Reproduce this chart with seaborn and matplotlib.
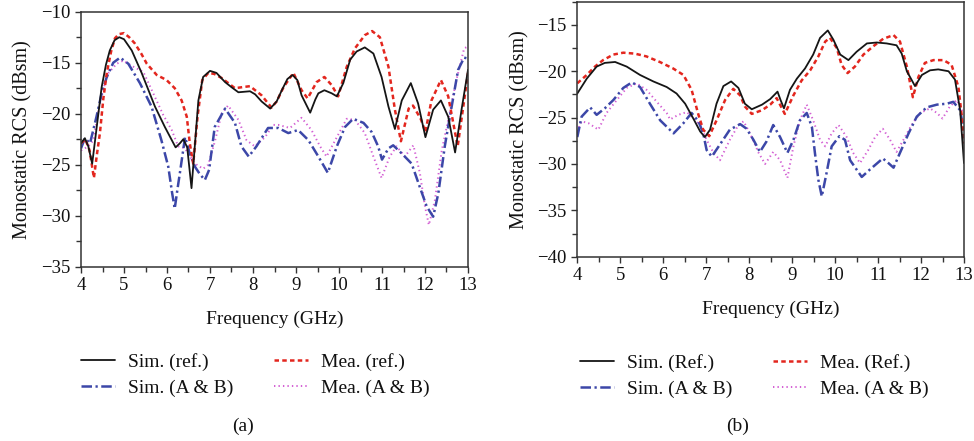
import numpy as np
import pandas as pd
import matplotlib
matplotlib.use("Agg")
import matplotlib.pyplot as plt
from matplotlib.ticker import MultipleLocator
from matplotlib.lines import Line2D
import seaborn as sns

# ---------------- Panel (a) data ----------------
a_sim_ref_f = [4.0, 4.09, 4.17, 4.26, 4.36, 4.48, 4.58, 4.67, 4.78, 4.89, 5.0, 5.18, 5.41, 5.72, 5.95, 6.2, 6.3, 6.38, 6.47, 6.57, 6.65, 6.73, 6.84, 7.0, 7.15, 7.35, 7.5, 7.66, 7.93, 8.05, 8.2, 8.4, 8.55, 8.67, 8.8, 8.92, 9.03, 9.13, 9.33, 9.45, 9.52, 9.66, 9.83, 9.95, 10.1, 10.26, 10.41, 10.6, 10.8, 10.99, 11.15, 11.3, 11.46, 11.67, 11.84, 12.01, 12.19, 12.37, 12.54, 12.7, 12.85, 13.0]
a_sim_ref_v = [-22.9, -22.4, -23.2, -24.9, -21.5, -17.4, -15.2, -13.8, -12.8, -12.5, -12.7, -13.8, -16.0, -19.3, -21.3, -23.3, -22.9, -22.5, -23.3, -27.3, -23.0, -18.7, -16.4, -15.8, -16.0, -16.9, -17.4, -17.9, -17.8, -18.1, -18.8, -19.5, -18.8, -17.7, -16.6, -16.2, -16.7, -18.2, -19.9, -18.6, -18.0, -17.7, -18.0, -18.3, -17.0, -14.7, -13.9, -13.5, -14.1, -16.4, -19.3, -21.5, -18.7, -17.0, -19.0, -22.3, -19.6, -18.7, -20.3, -23.8, -19.6, -15.7]

a_mea_ref_f = [4.0, 4.1, 4.2, 4.3, 4.37, 4.44, 4.52, 4.6, 4.7, 4.79, 4.88, 5.0, 5.12, 5.25, 5.4, 5.53, 5.76, 5.99, 6.18, 6.34, 6.46, 6.53, 6.61, 6.71, 6.82, 6.96, 7.1, 7.27, 7.58, 7.75, 7.93, 8.2, 8.43, 8.55, 8.71, 8.94, 9.13, 9.27, 9.48, 9.66, 9.83, 9.98, 10.18, 10.37, 10.6, 10.77, 10.95, 11.15, 11.3, 11.44, 11.62, 11.72, 11.9, 12.01, 12.15, 12.37, 12.54, 12.76, 12.89, 13.0]
a_mea_ref_v = [-22.9, -22.5, -23.6, -26.3, -24.0, -21.9, -18.5, -16.0, -13.9, -12.6, -12.2, -12.1, -12.5, -13.1, -14.1, -15.1, -16.2, -16.7, -17.5, -18.7, -20.3, -22.9, -24.9, -20.3, -16.7, -16.0, -16.1, -16.5, -17.5, -17.4, -17.3, -18.2, -19.4, -18.8, -17.4, -16.0, -17.7, -18.5, -16.9, -16.4, -17.2, -18.3, -15.4, -13.6, -12.3, -11.9, -12.5, -15.4, -19.6, -22.7, -19.5, -19.2, -20.5, -21.8, -18.7, -16.7, -18.3, -23.2, -19.3, -16.0]

a_sim_ab_f = [4.0, 4.09, 4.21, 4.36, 4.48, 4.6, 4.75, 4.91, 5.1, 5.37, 5.64, 5.87, 6.03, 6.12, 6.18, 6.24, 6.3, 6.42, 6.53, 6.65, 6.76, 6.88, 6.98, 7.11, 7.35, 7.58, 7.73, 7.9, 8.08, 8.35, 8.59, 8.82, 9.05, 9.29, 9.52, 9.74, 9.95, 10.14, 10.33, 10.57, 10.76, 10.91, 11.0, 11.15, 11.26, 11.46, 11.69, 11.88, 12.04, 12.19, 12.31, 12.46, 12.62, 12.77, 12.91, 13.0]
a_sim_ab_v = [-23.4, -22.4, -22.9, -20.3, -18.0, -16.4, -15.0, -14.5, -15.1, -17.0, -19.3, -22.6, -25.2, -27.8, -29.3, -27.5, -25.8, -22.3, -23.9, -25.2, -25.9, -26.5, -25.5, -21.3, -19.5, -20.9, -23.2, -24.2, -23.2, -21.4, -21.4, -21.9, -21.6, -22.6, -24.2, -25.8, -23.2, -21.3, -20.5, -20.9, -21.8, -23.2, -24.5, -23.4, -23.1, -23.9, -24.9, -27.2, -29.1, -30.1, -27.8, -23.2, -19.3, -15.7, -14.5, -14.6]

a_mea_ab_f = [4.0, 4.17, 4.29, 4.36, 4.44, 4.54, 4.64, 4.83, 4.98, 5.22, 5.45, 5.68, 5.91, 6.11, 6.26, 6.42, 6.53, 6.69, 6.84, 6.96, 7.12, 7.27, 7.42, 7.66, 7.85, 8.04, 8.28, 8.47, 8.59, 8.86, 9.13, 9.36, 9.56, 9.71, 9.95, 10.18, 10.37, 10.6, 10.8, 10.99, 11.18, 11.34, 11.53, 11.73, 11.88, 12.0, 12.09, 12.23, 12.39, 12.54, 12.73, 12.91, 13.0]
a_mea_ab_v = [-23.6, -23.2, -22.6, -20.8, -19.0, -17.3, -16.0, -15.1, -14.8, -15.4, -15.9, -18.0, -20.1, -21.6, -23.2, -23.4, -24.2, -25.0, -25.4, -25.0, -22.6, -20.0, -19.2, -20.6, -22.6, -23.2, -22.3, -21.1, -21.1, -21.4, -20.4, -21.6, -23.2, -24.2, -22.3, -20.5, -20.6, -21.9, -24.2, -26.3, -24.2, -23.2, -24.2, -23.1, -25.8, -29.1, -30.9, -28.5, -23.6, -20.6, -16.7, -13.6, -13.4]

# ---------------- Panel (b) data ----------------
b_sim_ref_f = [4.0, 4.22, 4.45, 4.64, 4.88, 5.15, 5.46, 5.77, 6.08, 6.31, 6.51, 6.7, 6.86, 6.97, 7.09, 7.24, 7.4, 7.58, 7.75, 7.9, 8.06, 8.3, 8.49, 8.66, 8.73, 8.81, 8.95, 9.11, 9.3, 9.49, 9.65, 9.83, 9.96, 10.12, 10.31, 10.5, 10.74, 10.97, 11.2, 11.43, 11.55, 11.67, 11.86, 12.02, 12.21, 12.4, 12.64, 12.79, 12.91, 13.0]
b_sim_ref_v = [-22.4, -20.8, -19.5, -19.1, -19.0, -19.5, -20.4, -21.1, -21.7, -22.4, -23.5, -25.1, -26.5, -27.1, -26.3, -23.5, -21.6, -21.1, -21.8, -23.5, -24.1, -23.6, -23.0, -22.2, -23.1, -24.0, -22.0, -20.8, -19.7, -18.2, -16.4, -15.6, -16.6, -18.2, -18.8, -17.9, -17.0, -16.9, -17.0, -17.2, -18.1, -20.0, -21.6, -20.4, -19.9, -19.8, -20.0, -20.9, -24.2, -29.9]

b_mea_ref_f = [4.0, 4.22, 4.41, 4.6, 4.84, 5.07, 5.34, 5.61, 5.92, 6.23, 6.47, 6.66, 6.82, 6.93, 7.07, 7.24, 7.44, 7.63, 7.79, 7.9, 8.06, 8.3, 8.49, 8.64, 8.83, 9.03, 9.22, 9.42, 9.61, 9.77, 9.88, 10.04, 10.15, 10.29, 10.46, 10.66, 10.89, 11.12, 11.36, 11.51, 11.67, 11.81, 11.94, 12.09, 12.29, 12.52, 12.71, 12.87, 12.95, 13.0]
b_mea_ref_v = [-21.3, -20.4, -19.5, -18.8, -18.2, -18.0, -18.1, -18.4, -19.0, -19.7, -20.4, -22.0, -24.7, -26.3, -27.0, -25.3, -23.1, -21.9, -22.6, -23.8, -24.6, -24.2, -23.6, -22.9, -24.6, -22.6, -21.0, -19.9, -18.4, -16.8, -16.4, -17.5, -19.3, -20.2, -19.5, -18.2, -17.3, -16.5, -16.1, -16.8, -19.5, -22.8, -20.6, -19.1, -18.8, -18.8, -19.3, -21.7, -24.9, -27.8]

b_sim_ab_f = [4.0, 4.1, 4.3, 4.45, 4.64, 4.84, 5.07, 5.27, 5.46, 5.69, 5.93, 6.24, 6.47, 6.66, 6.82, 6.93, 7.01, 7.13, 7.32, 7.55, 7.79, 7.94, 8.1, 8.25, 8.4, 8.56, 8.72, 8.89, 9.03, 9.18, 9.34, 9.46, 9.53, 9.61, 9.69, 9.8, 9.92, 10.1, 10.23, 10.35, 10.62, 10.81, 11.11, 11.24, 11.36, 11.51, 11.71, 11.9, 12.13, 12.37, 12.6, 12.75, 12.91, 13.0]
b_sim_ab_v = [-27.1, -24.9, -23.9, -24.7, -24.0, -23.1, -21.8, -21.2, -21.7, -23.5, -25.3, -26.7, -25.6, -24.5, -25.4, -26.7, -28.5, -29.2, -27.9, -26.3, -25.7, -26.2, -27.4, -28.7, -27.6, -25.8, -27.1, -28.8, -27.4, -25.3, -24.5, -26.0, -28.8, -31.7, -33.5, -31.0, -28.1, -27.0, -27.4, -29.6, -31.4, -30.6, -29.4, -29.9, -30.4, -28.8, -26.7, -24.9, -23.9, -23.6, -23.5, -23.3, -24.2, -26.5]

b_mea_ab_f = [4.0, 4.1, 4.26, 4.49, 4.68, 4.92, 5.15, 5.38, 5.61, 5.85, 6.08, 6.16, 6.35, 6.55, 6.86, 7.01, 7.17, 7.32, 7.55, 7.75, 7.87, 8.02, 8.22, 8.37, 8.56, 8.72, 8.89, 9.03, 9.18, 9.34, 9.49, 9.65, 9.77, 9.92, 10.08, 10.27, 10.42, 10.58, 10.77, 10.93, 11.11, 11.28, 11.43, 11.59, 11.78, 11.98, 12.21, 12.37, 12.5, 12.67, 12.83, 12.95, 13.0]
b_mea_ab_v = [-26.5, -25.4, -25.6, -26.3, -24.5, -23.1, -21.8, -21.3, -22.0, -23.3, -24.5, -25.2, -24.7, -24.4, -25.8, -27.4, -28.8, -29.6, -27.4, -25.8, -25.4, -26.7, -28.8, -30.0, -28.7, -29.6, -31.5, -28.1, -25.3, -23.6, -25.3, -27.4, -28.1, -26.7, -25.8, -27.1, -28.8, -29.9, -28.5, -27.1, -26.2, -27.4, -28.7, -27.4, -25.8, -24.5, -24.0, -24.5, -25.1, -23.8, -23.1, -24.2, -24.5]

labels_a = ["Sim. (ref.)", "Mea. (ref.)", "Sim. (A & B)", "Mea. (A & B)"]
labels_b = ["Sim. (Ref.)", "Mea. (Ref.)", "Sim. (A & B)", "Mea. (A & B)"]
x_label = "Frequency (GHz)"
y_label = "Monostatic RCS (dBsm)"

# ---------------- Styling ----------------
sns.set_theme(style="ticks")
plt.rcParams["font.family"] = ["Liberation Serif", "DejaVu Serif"]

C_BLACK = "#151515"
C_RED = "#e3261e"
C_BLUE = "#3c47a8"
C_PINK = "#d35fd3"

styles = [
    dict(color=C_BLACK, lw=1.3, ls="-"),
    dict(color=C_RED, lw=1.8, ls=(0, (1.8, 1.3))),
    dict(color=C_BLUE, lw=1.8, ls=(0, (4.2, 1.4, 0.9, 1.4))),
    dict(color=C_PINK, lw=1.4, ls=(0, (0.7, 1.6))),
]

fig = plt.figure(figsize=(9.74, 4.41), dpi=100)
W, H = 974.0, 441.0


def add_ax(l, r, t, b):
    return fig.add_axes([l / W, 1 - b / H, (r - l) / W, (b - t) / H])


ax_a = add_ax(81, 468, 11.7, 266.7)
ax_b = add_ax(577.3, 964, 1.7, 256.7)

panels = [
    (ax_a, [(a_sim_ref_f, a_sim_ref_v), (a_mea_ref_f, a_mea_ref_v),
            (a_sim_ab_f, a_sim_ab_v), (a_mea_ab_f, a_mea_ab_v)], (-35, -10)),
    (ax_b, [(b_sim_ref_f, b_sim_ref_v), (b_mea_ref_f, b_mea_ref_v),
            (b_sim_ab_f, b_sim_ab_v), (b_mea_ab_f, b_mea_ab_v)], (-40, -12.5)),
]

for ax, series, ylim in panels:
    for idx in [3, 2, 1, 0]:
        f, v = series[idx]
        st = styles[idx]
        df = pd.DataFrame({"f": f, "v": v})
        sns.lineplot(data=df, x="f", y="v", ax=ax, color=st["color"],
                     linewidth=st["lw"], estimator=None, sort=False)
        ln = ax.get_lines()[-1]
        ln.set_linestyle(st["ls"])
        ln.set_dash_capstyle("butt")
    ax.set_xlim(4, 13)
    ax.set_ylim(*ylim)
    ax.xaxis.set_major_locator(MultipleLocator(1))
    ax.xaxis.set_minor_locator(MultipleLocator(0.5))
    ax.yaxis.set_major_locator(MultipleLocator(5))
    ax.yaxis.set_minor_locator(MultipleLocator(2.5))
    ax.tick_params(which="both", direction="out", top=False, right=False,
                   width=1.0, color="#333333", labelsize=13.5, pad=3,
                   labelcolor="#111111")
    ax.tick_params(which="major", length=4.5)
    ax.tick_params(which="minor", length=3.5)
    for sp in ax.spines.values():
        sp.set_visible(True)
        sp.set_color("#333333")
        sp.set_linewidth(1.1)
    ax.set_xlabel(x_label, fontsize=14, color="#111111", labelpad=12)
    ax.set_ylabel(y_label, fontsize=14.5, color="#111111", labelpad=6)


def make_legend(labels, left_px, top_px):
    handles = [Line2D([0], [0], color=st["color"], lw=st["lw"], ls=st["ls"])
               for st in styles]
    # column-major filling -> reorder so rows read: Sim ref | Mea ref / Sim AB | Mea AB
    order = [0, 2, 1, 3]
    leg = fig.legend(handles=[handles[i] for i in order],
                     labels=[labels[i] for i in order], ncol=2,
                     loc="upper left",
                     bbox_to_anchor=(left_px / W, 1 - top_px / H),
                     frameon=False, fontsize=14, handlelength=1.75,
                     handletextpad=0.65, columnspacing=2.1,
                     labelspacing=0.42, borderpad=0, borderaxespad=0)
    for t in leg.get_texts():
        t.set_color("#111111")
    return leg


make_legend(labels_a, 81, 353)
make_legend(labels_b, 580, 354)

fig.text(243 / W, 1 - 426 / H, "(a)", ha="center", va="center", fontsize=14, color="#111111")
fig.text(738 / W, 1 - 426 / H, "(b)", ha="center", va="center", fontsize=14, color="#111111")

fig.savefig("out.png", dpi=100)
